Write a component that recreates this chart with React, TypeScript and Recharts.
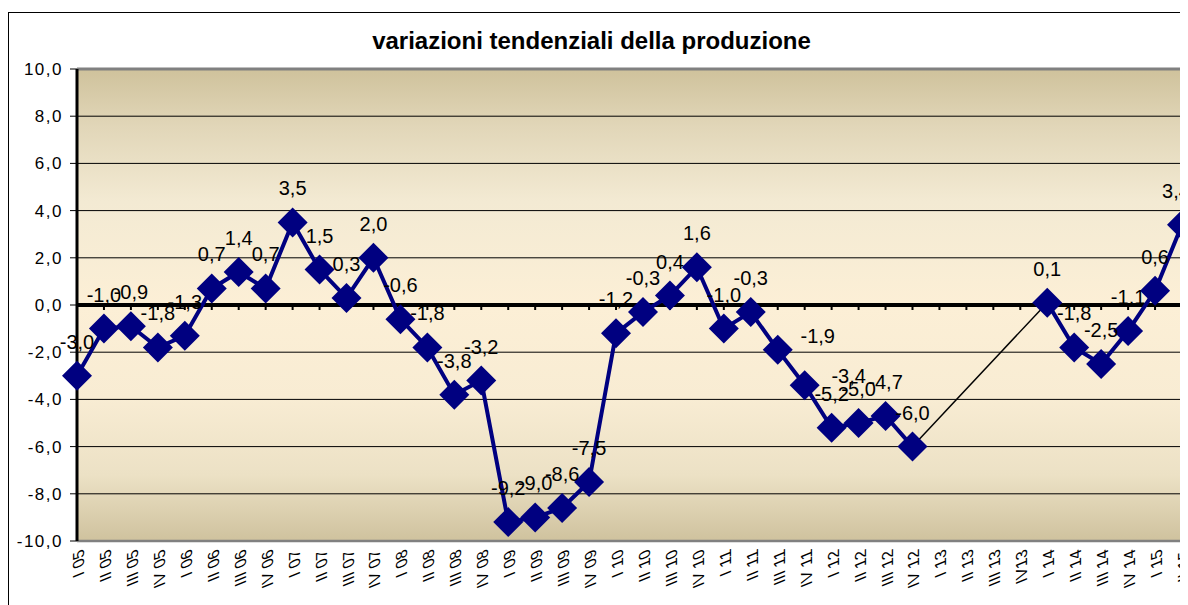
import React from 'react';
import { LineChart, Line, XAxis, YAxis, CartesianGrid, ReferenceLine, LabelList } from 'recharts';

const categories = [
  'I 05', 'II 05', 'III 05', 'IV 05',
  'I 06', 'II 06', 'III 06', 'IV 06',
  'I 07', 'II 07', 'III 07', 'IV 07',
  'I 08', 'II 08', 'III 08', 'IV 08',
  'I 09', 'II 09', 'III 09', 'IV 09',
  'I 10', 'II 10', 'III 10', 'IV 10',
  'I 11', 'II 11', 'III 11', 'IV 11',
  'I 12', 'II 12', 'III 12', 'IV 12',
  'I 13', 'II 13', 'III 13', 'IV13',
  'I 14', 'II 14', 'III 14', 'IV 14',
  'I 15', 'II 15',
];

const production: (number | null)[] = [
  -3.0, -1.0, -0.9, -1.8,
  -1.3, 0.7, 1.4, 0.7,
  3.5, 1.5, 0.3, 2.0,
  -0.6, -1.8, -3.8, -3.2,
  -9.2, -9.0, -8.6, -7.5,
  -1.2, -0.3, 0.4, 1.6,
  -1.0, -0.3, -1.9, -3.4,
  -5.2, -5.0, -4.7, -6.0,
  null, null, null, null,
  0.1, -1.8, -2.5, -1.1,
  0.6, 3.4,
];

const yTicks = [-10, -8, -6, -4, -2, 0, 2, 4, 6, 8, 10];

const bridgeFrom = 'IV 12';
const bridgeTo = 'I 14';

const title = 'variazioni tendenziali della produzione';

const labelNudge: Record<string, { dx: number; dy: number }> = {
  'III 11': { dx: 40, dy: 20 },
  'IV 11': { dx: 44, dy: 25 },
  'II 15': { dx: -6, dy: 0 },
};

const data = categories.map((cat, i) => ({
  cat,
  v: production[i],
  bridge: cat === bridgeFrom || cat === bridgeTo ? production[i] : null,
}));

const FONT = '"Liberation Sans", Arial, sans-serif';
const NAVY = '#000080';

const fmt = (v: number) => v.toFixed(1).replace('.', ',');

const XTick = (props: any) => {
  const { x, y, payload } = props;
  return (
    <g transform={`translate(${x + 7},${y - 1})`}>
      <text
        transform="rotate(-90) skewX(22)"
        textAnchor="end"
        fontSize={16}
        fontFamily={FONT}
        fill="#000"
      >
        {payload.value}
      </text>
    </g>
  );
};

const renderDiamond = (props: any) => {
  const { cx, cy, index } = props;
  if (cx == null || cy == null || props.value == null) return <g key={`d${index}`} />;
  const r = 15;
  return (
    <polygon
      key={`d${index}`}
      points={`${cx},${cy - r} ${cx + r},${cy} ${cx},${cy + r} ${cx - r},${cy}`}
      fill={NAVY}
    />
  );
};

const renderLabel = (props: any) => {
  const { value, index } = props;
  if (value == null) return null;
  const x = props.x ?? props.viewBox?.x;
  const y = props.y ?? props.viewBox?.y;
  if (x == null || y == null) return null;
  const n = labelNudge[categories[index]] || { dx: 0, dy: 0 };
  return (
    <text
      key={`l${index}`}
      x={x + n.dx}
      y={y - 27 + n.dy}
      textAnchor="middle"
      fontSize={20}
      fontFamily={FONT}
      fill="#000"
    >
      {fmt(Number(value))}
    </text>
  );
};

const ZeroLine = (p: any) => {
  const { x1, x2, y1 } = p;
  const step = (x2 - x1) / (categories.length - 1);
  return (
    <g>
      <line x1={x1} x2={x2} y1={y1} y2={y1} stroke="#000" strokeWidth={4} />
      {categories.map((c, i) => (
        <rect key={c} x={x1 + i * step - 1} y={y1} width={2} height={5} fill="#000" />
      ))}
    </g>
  );
};

export default function App() {
  return (
    <div style={{ paddingTop: 4 }}>
      <div
        style={{
          position: 'relative',
          width: 1180,
          height: 593,
          borderLeft: '1px solid #000',
          borderTop: '1px solid #000',
          boxSizing: 'border-box',
        }}
      >
        <div
          style={{
            position: 'absolute',
            left: 0,
            top: 16,
            width: 1165,
            textAlign: 'center',
            fontFamily: FONT,
            fontWeight: 'bold',
            fontSize: 24,
            lineHeight: '24px',
            color: '#000',
          }}
        >
          {title}
        </div>
        <LineChart
          width={1179}
          height={592}
          data={data}
          margin={{ top: 56, right: 6, bottom: 8, left: 8 }}
        >
          <defs>
            <linearGradient id="plotBg" x1="0" y1="0" x2="0" y2="1">
              <stop offset="0%" stopColor="#cfc29c" />
              <stop offset="12%" stopColor="#e1d6b8" />
              <stop offset="28%" stopColor="#f3ead3" />
              <stop offset="50%" stopColor="#fcefd6" />
              <stop offset="70%" stopColor="#f8ecd3" />
              <stop offset="86%" stopColor="#ece1c5" />
              <stop offset="100%" stopColor="#cfc29e" />
            </linearGradient>
          </defs>
          <CartesianGrid vertical={false} stroke="#000" strokeWidth={1} fill="url(#plotBg)" fillOpacity={1} />
          <XAxis
            dataKey="cat"
            interval={0}
            height={56}
            tickLine={false}
            axisLine={{ stroke: '#808080', strokeWidth: 2.5 }}
            tick={<XTick />}
          />
          <YAxis
            domain={[-10, 10]}
            ticks={yTicks}
            width={60}
            tickSize={7}
            tickMargin={7}
            axisLine={{ stroke: '#000', strokeWidth: 3 }}
            tickLine={{ stroke: '#000', strokeWidth: 1 }}
            tickFormatter={(v: number) => fmt(v)}
            tick={{ fontSize: 17, fill: '#000', fontFamily: FONT, letterSpacing: 1.5 }}
          />
          <ReferenceLine y={10} stroke="#808080" strokeWidth={3} />
          <ReferenceLine x="II 15" stroke="#808080" strokeWidth={3} />
          <ReferenceLine y={0} shape={ZeroLine} />
          <Line
            dataKey="v"
            stroke={NAVY}
            strokeWidth={4}
            dot={renderDiamond}
            activeDot={false}
            connectNulls={false}
            isAnimationActive={false}
          >
            <LabelList dataKey="v" content={renderLabel} />
          </Line>
          <Line
            dataKey="bridge"
            stroke="#000"
            strokeWidth={1.5}
            dot={false}
            activeDot={false}
            connectNulls
            isAnimationActive={false}
          />
        </LineChart>
      </div>
    </div>
  );
}
